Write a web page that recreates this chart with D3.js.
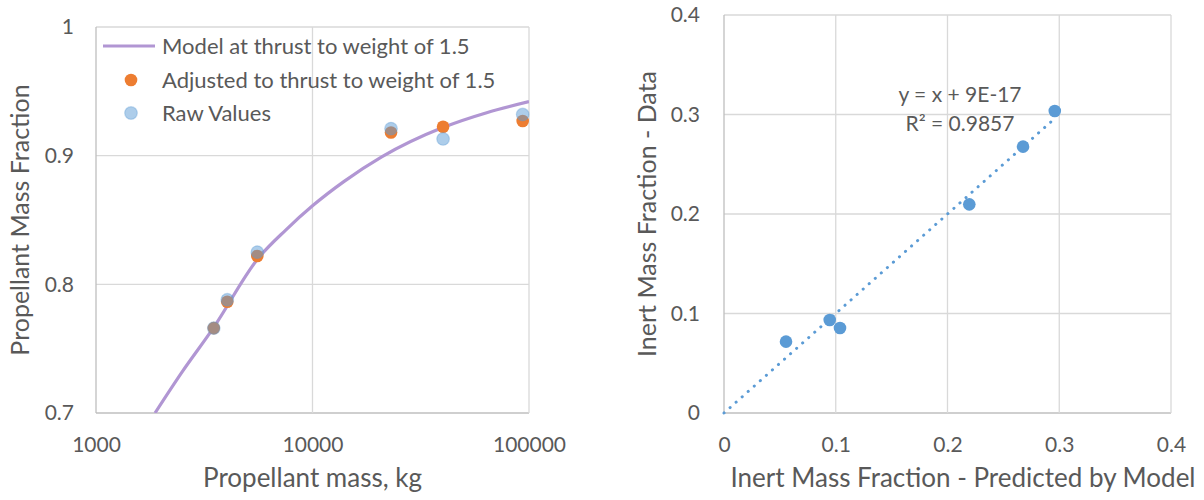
<!DOCTYPE html>
<html>
<head>
<meta charset="utf-8">
<script src="https://cdn.jsdelivr.net/npm/d3@7"></script>
<style>
  html, body { margin: 0; padding: 0; background: #fff; }
  svg { display: block; }
  text { font-family: Lato, "Open Sans", sans-serif; fill: #595959; }
</style>
</head>
<body>
<svg id="chart" width="1204" height="500"></svg>
<script>
// ---- Left panel: propellant mass fraction vs propellant mass ----
const propMass     = [3500, 4040, 5560, 23050, 40100, 93500];
const adjustedPMF  = [0.766, 0.7865, 0.822, 0.918, 0.9225, 0.927];
const rawPMF       = [0.766, 0.788, 0.825, 0.921, 0.913, 0.932];
const modelMass    = [1873, 2500, 3480, 5630, 7500, 10000, 14000, 20870, 40200, 63760, 100000];
const modelPMF     = [0.700, 0.732, 0.766, 0.8205, 0.842, 0.861, 0.880, 0.899, 0.922, 0.9334, 0.942];
const massTicks    = [1000, 10000, 100000];
const pmfTicks     = [0.7, 0.8, 0.9, 1];
const pmfTickLabels = ["0.7", "0.8", "0.9", "1"];
const legendLabels = ["Model at thrust to weight of 1.5", "Adjusted to thrust to weight of 1.5", "Raw Values"];

// ---- Right panel: inert mass fraction, data vs model ----
const inertPredicted = [0.0555, 0.0946, 0.1038, 0.2195, 0.2676, 0.296];
const inertData      = [0.0717, 0.0935, 0.0854, 0.2097, 0.2677, 0.3035];
const inertTicks     = [0, 0.1, 0.2, 0.3, 0.4];
const inertTickLabels = ["0", "0.1", "0.2", "0.3", "0.4"];
const trendSlope = 1, trendIntercept = 9e-17;
const trendLabels = ["y = x + 9E-17", "R\u00B2 = 0.9857"];

const svg = d3.select("#chart");
const GRID = "#d9d9d9", AXIS = "#bfbfbf";
const ORANGE = "#ed7d31", BLUE = "#5b9bd5", PURPLE = "#b196d3";
const TICK_FONT = "21px", TITLE_FONT = "26px";

// ================= Left chart =================
const L = { x0: 96, x1: 529, y0: 27, y1: 413 };
const xL = d3.scaleLog().domain([1000, 100000]).range([L.x0, L.x1]);
const yL = d3.scaleLinear().domain([0.7, 1]).range([L.y1, L.y0]);

const gL = svg.append("g");

// gridlines
gL.append("g").selectAll("line").data(pmfTicks).join("line")
  .attr("x1", L.x0).attr("x2", L.x1)
  .attr("y1", d => yL(d)).attr("y2", d => yL(d))
  .attr("stroke", d => d === 0.7 ? AXIS : GRID).attr("stroke-width", 1.3);
gL.append("g").selectAll("line").data(massTicks).join("line")
  .attr("x1", d => xL(d)).attr("x2", d => xL(d))
  .attr("y1", L.y0).attr("y2", L.y1)
  .attr("stroke", d => d === 1000 ? AXIS : GRID).attr("stroke-width", 1.3);

// axes (labels only)
const axLy = d3.axisLeft(yL).tickValues(pmfTicks)
  .tickFormat((d, i) => pmfTickLabels[i]).tickSize(0).tickPadding(22);
gL.append("g").attr("transform", `translate(${L.x0},0)`).call(axLy)
  .call(g => g.select(".domain").remove())
  .selectAll("text").style("font-size", TICK_FONT).attr("fill", "#595959");

const axLx = d3.axisBottom(xL).tickValues(massTicks)
  .tickFormat(d3.format("d")).tickSize(0).tickPadding(24);
gL.append("g").attr("transform", `translate(0,${L.y1})`).call(axLx)
  .call(g => g.select(".domain").remove())
  .selectAll("text").style("font-size", TICK_FONT).attr("fill", "#595959");

// axis titles
gL.append("text").attr("x", (L.x0 + L.x1) / 2).attr("y", 487)
  .attr("text-anchor", "middle").style("font-size", TITLE_FONT)
  .text("Propellant mass, kg");
gL.append("text")
  .attr("transform", `translate(29,${(L.y0 + L.y1) / 2}) rotate(-90)`)
  .attr("text-anchor", "middle").style("font-size", "25px")
  .text("Propellant Mass Fraction");

// clip region for the model curve
svg.append("clipPath").attr("id", "clipL").append("rect")
  .attr("x", L.x0).attr("y", L.y0).attr("width", L.x1 - L.x0).attr("height", L.y1 - L.y0);

const modelLine = d3.line()
  .x((d, i) => xL(modelMass[i]))
  .y(d => yL(d))
  .curve(d3.curveMonotoneX);
gL.append("path").datum(modelPMF)
  .attr("clip-path", "url(#clipL)")
  .attr("d", modelLine)
  .attr("fill", "none").attr("stroke", PURPLE).attr("stroke-width", 3.2);

// adjusted values
gL.append("g").selectAll("circle").data(adjustedPMF).join("circle")
  .attr("cx", (d, i) => xL(propMass[i])).attr("cy", d => yL(d))
  .attr("r", 6.3).attr("fill", ORANGE);

// raw values, translucent on top
gL.append("g").selectAll("circle").data(rawPMF).join("circle")
  .attr("cx", (d, i) => xL(propMass[i])).attr("cy", d => yL(d))
  .attr("r", 6.3).attr("fill", BLUE).attr("fill-opacity", 0.5)
  .attr("stroke", BLUE).attr("stroke-opacity", 0.35).attr("stroke-width", 1.2);

// legend
const lg = gL.append("g");
const legY = [46, 80, 113];
lg.append("line").attr("x1", 103).attr("x2", 155).attr("y1", legY[0]).attr("y2", legY[0])
  .attr("stroke", PURPLE).attr("stroke-width", 3.2);
lg.append("circle").attr("cx", 131).attr("cy", legY[1]).attr("r", 6.3).attr("fill", ORANGE);
lg.append("circle").attr("cx", 131).attr("cy", legY[2]).attr("r", 6.3)
  .attr("fill", BLUE).attr("fill-opacity", 0.5)
  .attr("stroke", BLUE).attr("stroke-opacity", 0.35).attr("stroke-width", 1.2);
lg.selectAll("text").data(legendLabels).join("text")
  .attr("x", 162).attr("y", (d, i) => legY[i]).attr("dy", "0.35em")
  .style("font-size", "22px").text(d => d);

// ================= Right chart =================
const R = { x0: 724, x1: 1171, y0: 15, y1: 413 };
const xR = d3.scaleLinear().domain([0, 0.4]).range([R.x0, R.x1]);
const yR = d3.scaleLinear().domain([0, 0.4]).range([R.y1, R.y0]);
const gR = svg.append("g");

gR.append("g").selectAll("line").data(inertTicks).join("line")
  .attr("x1", R.x0).attr("x2", R.x1)
  .attr("y1", d => yR(d)).attr("y2", d => yR(d))
  .attr("stroke", d => d === 0 ? AXIS : GRID).attr("stroke-width", 1.3);
gR.append("g").selectAll("line").data(inertTicks).join("line")
  .attr("x1", d => xR(d)).attr("x2", d => xR(d))
  .attr("y1", R.y0).attr("y2", R.y1)
  .attr("stroke", d => d === 0 ? AXIS : GRID).attr("stroke-width", 1.3);

const axRy = d3.axisLeft(yR).tickValues(inertTicks)
  .tickFormat((d, i) => inertTickLabels[i]).tickSize(0).tickPadding(24);
gR.append("g").attr("transform", `translate(${R.x0},0)`).call(axRy)
  .call(g => g.select(".domain").remove())
  .selectAll("text").style("font-size", TICK_FONT).attr("fill", "#595959");

const axRx = d3.axisBottom(xR).tickValues(inertTicks)
  .tickFormat((d, i) => inertTickLabels[i]).tickSize(0).tickPadding(24);
gR.append("g").attr("transform", `translate(0,${R.y1})`).call(axRx)
  .call(g => g.select(".domain").remove())
  .selectAll("text").style("font-size", TICK_FONT).attr("fill", "#595959");

gR.append("text").attr("x", 963).attr("y", 487)
  .attr("text-anchor", "middle").style("font-size", TITLE_FONT)
  .text("Inert Mass Fraction - Predicted by Model");
gR.append("text")
  .attr("transform", `translate(656,${(R.y0 + R.y1) / 2}) rotate(-90)`)
  .attr("text-anchor", "middle").style("font-size", "25px")
  .text("Inert Mass Fraction - Data");

// linear trendline
const trendX = [0, d3.max(inertPredicted)];
gR.append("path").datum(trendX)
  .attr("d", d3.line().x(d => xR(d)).y(d => yR(trendSlope * d + trendIntercept)))
  .attr("fill", "none").attr("stroke", BLUE).attr("stroke-width", 3)
  .attr("stroke-linecap", "round").attr("stroke-dasharray", "0.1,8");

gR.append("g").selectAll("circle").data(inertData).join("circle")
  .attr("cx", (d, i) => xR(inertPredicted[i])).attr("cy", d => yR(d))
  .attr("r", 6.3).attr("fill", BLUE);

gR.selectAll("text.eq").data(trendLabels).join("text").attr("class", "eq")
  .attr("x", 960).attr("y", (d, i) => 95 + i * 29).attr("dy", "0.35em")
  .attr("text-anchor", "middle").style("font-size", "21px").text(d => d);
</script>
</body>
</html>
